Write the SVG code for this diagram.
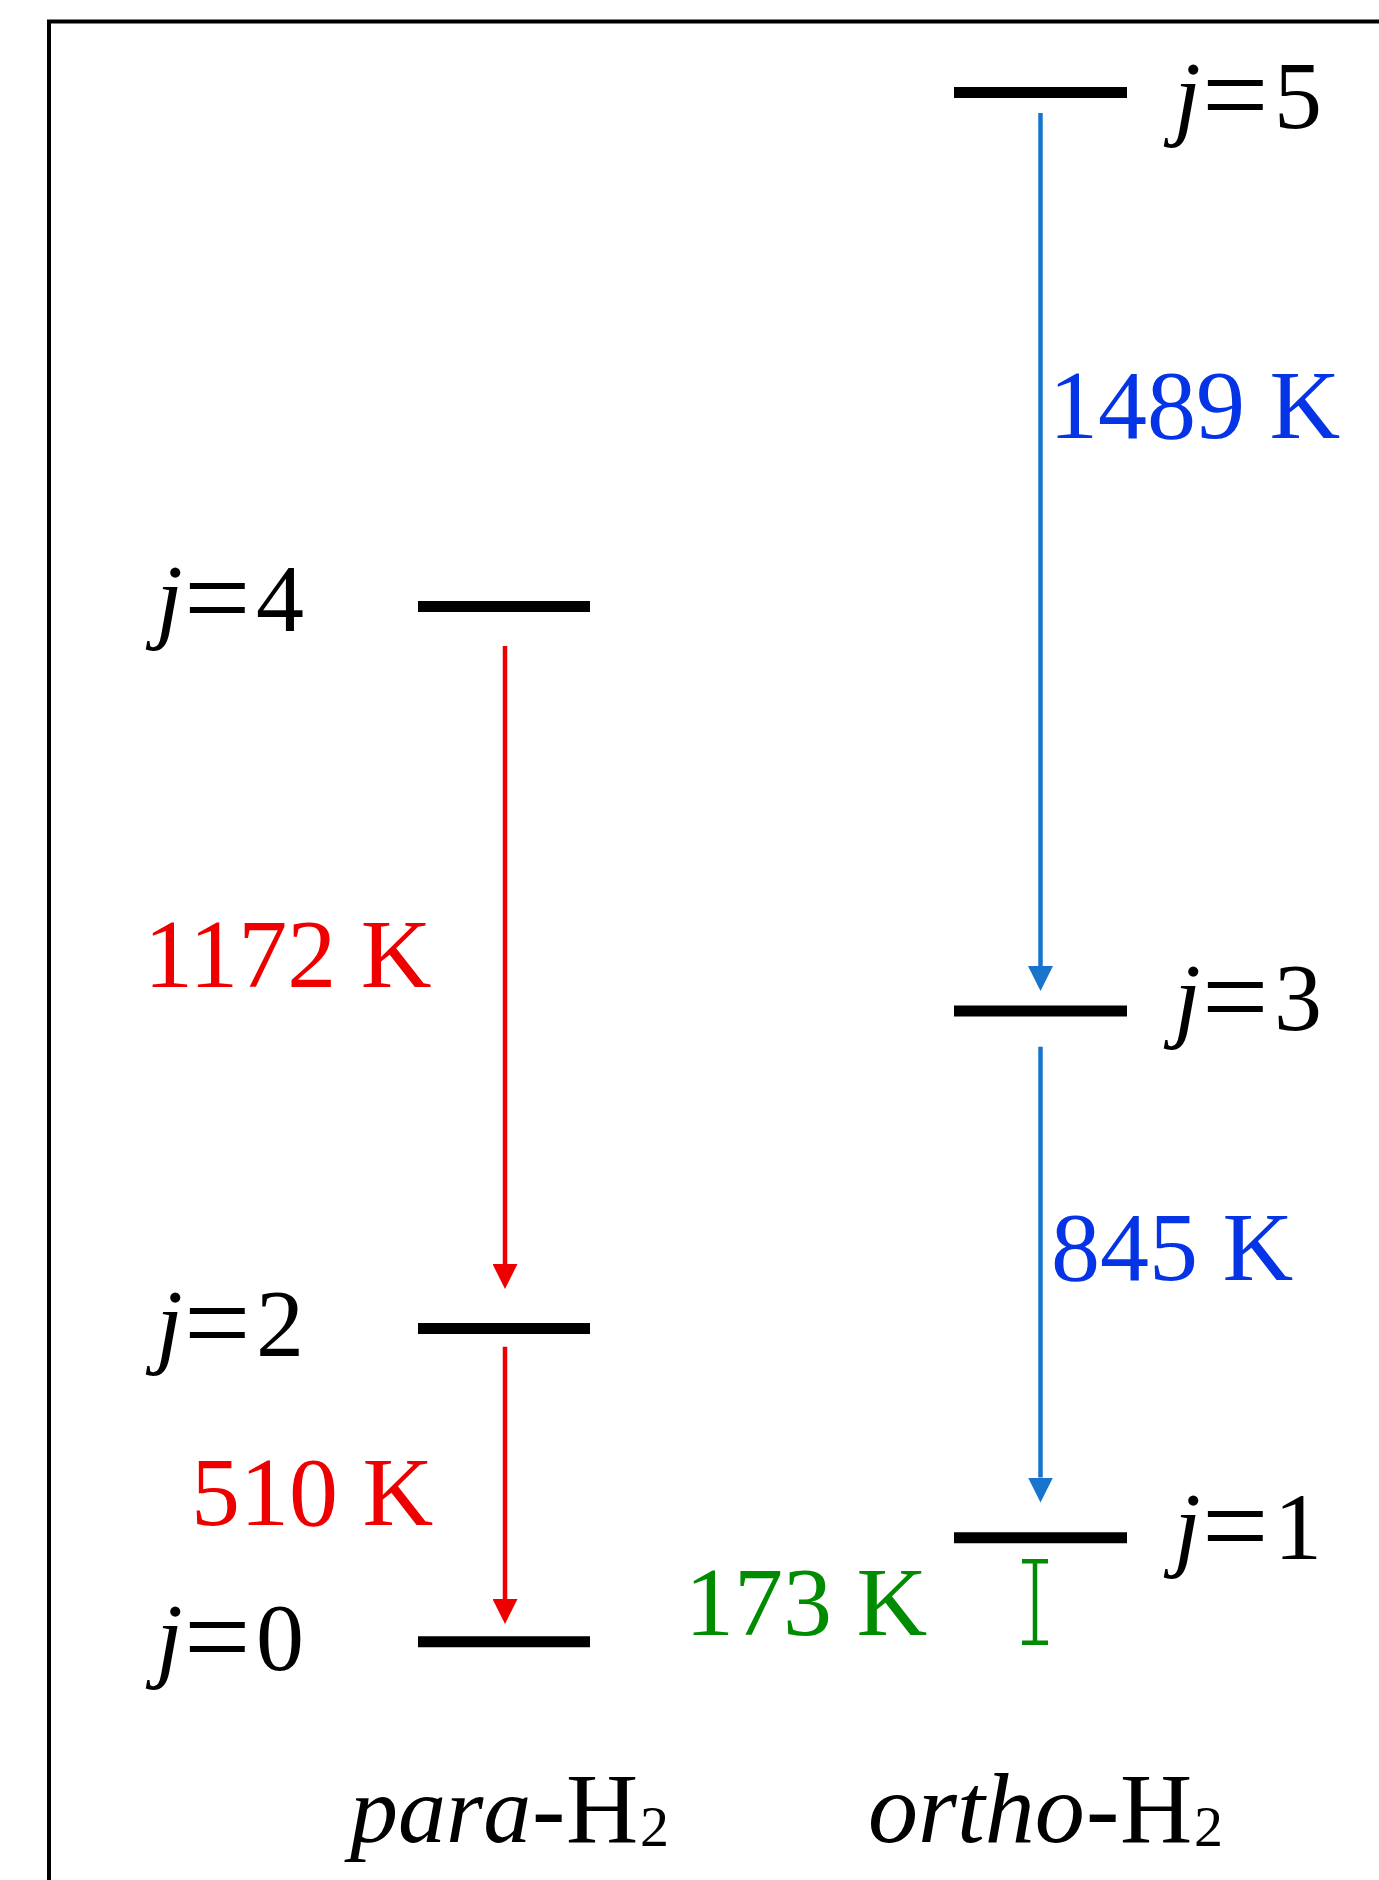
<svg xmlns="http://www.w3.org/2000/svg" width="1379" height="1880" viewBox="0 0 1379 1880">
  <style>
    .bar { stroke: #000; stroke-width: 11; fill: none; }
    .lbl { font-family: "Liberation Serif", "Times New Roman", serif; font-size: 96px; fill: #000; }
    .eq { font-size: 118px; }
    .it { font-style: italic; }
    .num { font-family: "Liberation Serif", "Times New Roman", serif; font-size: 98px; }
    .red { fill: #EE0000; }
    .blue { fill: #0533E6; }
    .green { fill: #008B00; }
    .redline { stroke: #EE0000; stroke-width: 4.5; fill: none; }
    .blueline { stroke: #1874CD; stroke-width: 4.5; fill: none; }
    .greenline { stroke: #008B00; stroke-width: 4.5; fill: none; }
    .species { font-family: "Liberation Serif", "Times New Roman", serif; font-size: 100px; fill: #000; }
  </style>
  <defs>
    <marker id="ahRed" markerUnits="userSpaceOnUse" markerWidth="25" markerHeight="25" refX="0" refY="12.5" orient="auto" viewBox="0 0 25 25">
      <path d="M0,0 L25,12.5 L0,25 z" fill="#EE0000"/>
    </marker>
    <marker id="ahBlue" markerUnits="userSpaceOnUse" markerWidth="25" markerHeight="25" refX="0" refY="12.5" orient="auto" viewBox="0 0 25 25">
      <path d="M0,0 L25,12.5 L0,25 z" fill="#1874CD"/>
    </marker>
  </defs>

  <rect width="1379" height="1880" fill="#fff"/>
  <path id="frame" d="M49,1880 V21.5 H1379" fill="none" stroke="#000" stroke-width="4"/>

  <g id="level-j5">
    <line class="bar" x1="954" y1="92.5" x2="1127" y2="92.5"/>
    <text class="lbl" y="128"><tspan class="it" x="1174">j</tspan><tspan class="eq" x="1202" dy="7">=</tspan><tspan x="1274" dy="-7">5</tspan></text>
  </g>
  <g id="level-j4">
    <line class="bar" x1="418" y1="606.5" x2="590" y2="606.5"/>
    <text class="lbl" y="631"><tspan class="it" x="156">j</tspan><tspan class="eq" x="184" dy="7">=</tspan><tspan x="256" dy="-7">4</tspan></text>
  </g>
  <g id="level-j3">
    <line class="bar" x1="954" y1="1011" x2="1127" y2="1011"/>
    <text class="lbl" y="1030"><tspan class="it" x="1174">j</tspan><tspan class="eq" x="1202" dy="7">=</tspan><tspan x="1274" dy="-7">3</tspan></text>
  </g>
  <g id="level-j2">
    <line class="bar" x1="418" y1="1328.5" x2="590" y2="1328.5"/>
    <text class="lbl" y="1356"><tspan class="it" x="156">j</tspan><tspan class="eq" x="184" dy="7">=</tspan><tspan x="256" dy="-7">2</tspan></text>
  </g>
  <g id="level-j1">
    <line class="bar" x1="954" y1="1537.8" x2="1127" y2="1537.8"/>
    <text class="lbl" y="1559"><tspan class="it" x="1174">j</tspan><tspan class="eq" x="1202" dy="7">=</tspan><tspan x="1274" dy="-7">1</tspan></text>
  </g>
  <g id="level-j0">
    <line class="bar" x1="418" y1="1641.8" x2="590" y2="1641.8"/>
    <text class="lbl" y="1670"><tspan class="it" x="156">j</tspan><tspan class="eq" x="184" dy="7">=</tspan><tspan x="256" dy="-7">0</tspan></text>
  </g>

  <g id="connectors">
    <line class="blueline" x1="1040.5" y1="113" x2="1040.5" y2="966" marker-end="url(#ahBlue)"/>
    <line class="blueline" x1="1040.5" y1="1046.7" x2="1040.5" y2="1477.5" marker-end="url(#ahBlue)"/>
    <line class="redline" x1="505" y1="646" x2="505" y2="1264" marker-end="url(#ahRed)"/>
    <line class="redline" x1="505" y1="1346.7" x2="505" y2="1599" marker-end="url(#ahRed)"/>
    <path class="greenline" d="M1022,1561.3 H1048 M1035,1561.3 V1642.7 M1022,1642.7 H1048"/>
  </g>

  <g id="transition-labels">
    <text class="num blue" x="1049" y="438">1489 K</text>
    <text class="num red" x="144" y="987">1172 K</text>
    <text class="num blue" x="1051" y="1280">845 K</text>
    <text class="num red" x="191" y="1525">510 K</text>
    <text class="num green" x="685" y="1635">173 K</text>
  </g>

  <g id="species-labels">
    <text class="species" y="1842"><tspan class="it" x="350" font-size="96">para</tspan><tspan x="532">-</tspan><tspan x="566">H</tspan><tspan x="640" dy="4" font-size="58">2</tspan></text>
    <text class="species" y="1842"><tspan class="it" x="868">ortho</tspan><tspan x="1086">-</tspan><tspan x="1120">H</tspan><tspan x="1194" dy="4" font-size="58">2</tspan></text>
  </g>
</svg>
